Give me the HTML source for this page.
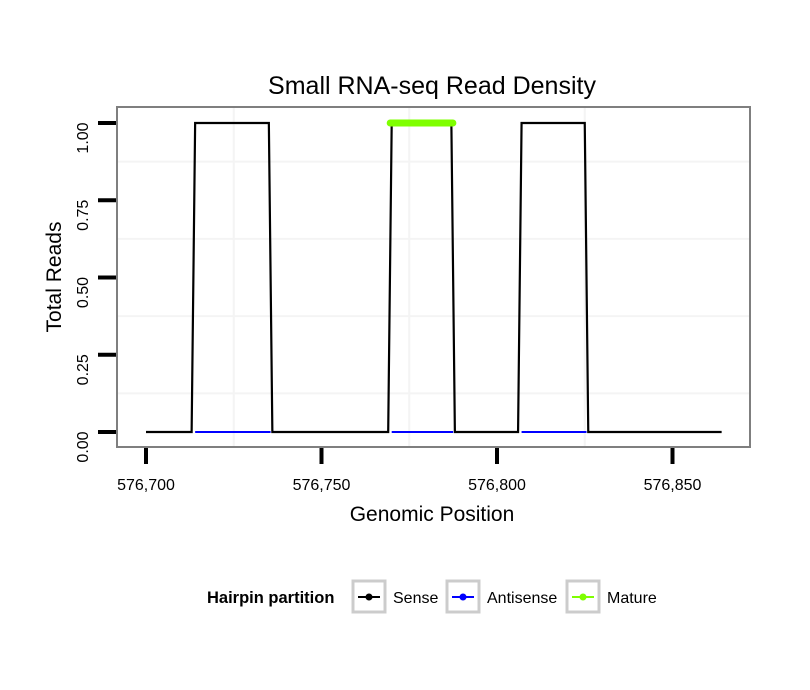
<!DOCTYPE html>
<html><head><meta charset="utf-8"><style>body{margin:0;background:#fff}svg{display:block;font-family:"Liberation Sans",sans-serif}</style></head>
<body>
<svg id="chart" width="810" height="690">
<rect x="0" y="0" width="810" height="690" fill="#fff"/>
<text x="432" y="94" text-anchor="middle" font-size="25">Small RNA-seq Read Density</text>
<g id="grid"></g>
<g id="series"></g>
<rect x="117" y="107" width="633" height="340" fill="none" stroke="#7f7f7f" stroke-width="2"/>
<g id="axes"></g>
<text x="432" y="521" text-anchor="middle" font-size="21">Genomic Position</text>
<text transform="translate(61,277) rotate(-90)" text-anchor="middle" font-size="21">Total Reads</text>
<g>
<text x="207" y="603" font-size="16.5" font-weight="bold">Hairpin partition</text>
<g>
<rect x="353" y="581" width="32" height="31" fill="#fff" stroke="#ccc" stroke-width="3"/>
<line x1="358" y1="597" x2="380" y2="597" stroke="#000" stroke-width="2"/><circle cx="369" cy="597" r="3.5" fill="#000"/>
<text x="393" y="603" font-size="16">Sense</text></g>
<g>
<rect x="447" y="581" width="32" height="31" fill="#fff" stroke="#ccc" stroke-width="3"/>
<line x1="452" y1="597" x2="474" y2="597" stroke="#00f" stroke-width="2"/><circle cx="463" cy="597" r="3.5" fill="#00f"/>
<text x="487" y="603" font-size="16">Antisense</text></g>
<g>
<rect x="567" y="581" width="32" height="31" fill="#fff" stroke="#ccc" stroke-width="3"/>
<line x1="572" y1="597" x2="594" y2="597" stroke="#7fff00" stroke-width="2"/><circle cx="583" cy="597" r="3.5" fill="#7fff00"/>
<text x="607" y="603" font-size="16">Mature</text></g>
</g>
</svg>
<script>
const xTicks=[576700,576750,576800,576850];
const yTicks=[0,0.25,0.5,0.75,1];
const yTickLabels=["0.00","0.25","0.50","0.75","1.00"];
const sensePos=[576700,576713,576714,576735,576736,576769,576770,576787,576788,576806,576807,576825,576826,576864];
const senseVal=[0,0,1,1,0,0,1,1,0,0,1,1,0,0];
const antisenseSegStart=[576714,576770,576807];
const antisenseSegEnd=[576735.5,576787.5,576825.5];
const matureStart=[576770];
const matureEnd=[576787];
const matureVal=[1];

const X=v=>146+(v-576700)*3.51;
const Y=v=>432-v*309;
const NS="http://www.w3.org/2000/svg";
function mk(tag,attrs,parent){const e=document.createElementNS(NS,tag);for(const k in attrs)e.setAttribute(k,attrs[k]);parent.appendChild(e);return e;}
const grid=document.getElementById('grid'),series=document.getElementById('series'),axes=document.getElementById('axes');
for(let i=0;i<xTicks.length;i++){const m=xTicks[i]+25;if(X(m)<750){const l=mk('line',{x1:X(m),x2:X(m),y1:108,y2:446,stroke:'#f4f4f4','stroke-width':2},grid);

}}
for(let i=0;i<yTicks.length-1;i++){const m=(yTicks[i]+yTicks[i+1])/2;const l=mk('line',{x1:118,x2:749,y1:Y(m),y2:Y(m),stroke:'#f4f4f4','stroke-width':2},grid);

}
for(let i=0;i<antisenseSegStart.length;i++){const l=mk('line',{x1:X(antisenseSegStart[i]),x2:X(antisenseSegEnd[i]),y1:Y(0),y2:Y(0),stroke:'#00f','stroke-width':2},series);

}
const pts=sensePos.map((p,i)=>X(p)+','+Y(senseVal[i])).join(' ');
const sl=mk('polyline',{points:pts,fill:'none',stroke:'#000','stroke-width':2.2},series);


for(let i=0;i<matureStart.length;i++){const l=mk('line',{x1:X(matureStart[i])-1.5,x2:X(matureEnd[i])+1.5,y1:Y(matureVal[i]),y2:Y(matureVal[i]),stroke:'#7fff00','stroke-width':7,'stroke-linecap':'round'},series);

}
for(let i=0;i<xTicks.length;i++){const x=X(xTicks[i]);
const t=mk('line',{x1:x,x2:x,y1:448,y2:464,stroke:'#000','stroke-width':4},axes);


const tx=mk('text',{x:x,y:490,'text-anchor':'middle','font-size':16},axes);tx.textContent=xTicks[i].toLocaleString('en-US');

}
for(let i=0;i<yTicks.length;i++){const y=Y(yTicks[i]);
const t=mk('line',{x1:98,x2:116,y1:y,y2:y,stroke:'#000','stroke-width':4},axes);


const tx=mk('text',{'text-anchor':'middle','font-size':16,transform:`translate(88,${y+15}) rotate(-90)`},axes);tx.textContent=yTickLabels[i];

}
</script>
</body></html>
